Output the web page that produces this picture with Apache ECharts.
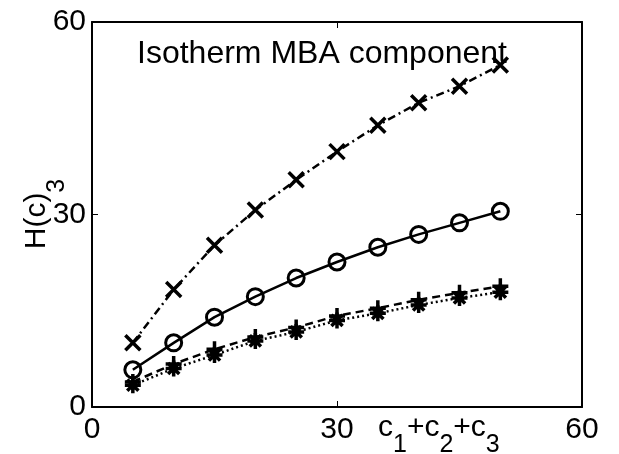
<!DOCTYPE html>
<html>
<head>
<meta charset="utf-8">
<script src="https://cdn.jsdelivr.net/npm/echarts@6/dist/echarts.min.js"></script>
<style>
html,body{margin:0;padding:0;background:#fff;}
#chart{width:619px;height:454px;}
</style>
</head>
<body>
<div id="chart"></div>
<script>
var xValues = [5, 10, 15, 20, 25, 30, 35, 40, 45, 50];
var crossSeries = [10.0, 18.3, 25.2, 30.7, 35.4, 39.8, 43.9, 47.4, 50.0, 53.3];
var circleSeries = [5.8, 10.0, 14.0, 17.2, 20.1, 22.6, 24.9, 26.9, 28.7, 30.5];
var plusSeries = [3.9, 6.7, 9.0, 10.9, 12.4, 14.2, 15.4, 16.7, 17.8, 18.8];
var starSeries = [3.4, 6.0, 8.1, 10.3, 11.7, 13.5, 14.6, 15.9, 17.0, 17.9];
var axisMin = 0, axisMax = 60, axisStep = 30;
var titleText = 'Isotherm MBA component';

var FONT = '"Liberation Sans", Arial, Helvetica, sans-serif';
function pairs(v) { return xValues.map(function (x, i) { return [x, v[i]]; }); }

var chart = echarts.init(document.getElementById('chart'), null, {renderer: 'canvas'});
var lineBase = {type: 'line', symbolKeepAspect: true, animation: false, z: 3,
  emphasis: {disabled: true}};

function mkSeries(data, symbol, size, dash, extraItem) {
  return Object.assign({}, lineBase, {
    data: pairs(data),
    symbol: symbol,
    symbolSize: size,
    lineStyle: {color: '#000', width: 2.5, type: dash},
    itemStyle: Object.assign({color: '#000', borderColor: '#000', borderWidth: 3.5}, extraItem || {})
  });
}

var axisCommon = {
  type: 'value', min: axisMin, max: axisMax, interval: axisStep,
  splitLine: {show: false},
  axisLine: {show: true, onZero: false, lineStyle: {color: '#000', width: 2}},
  axisTick: {show: true, inside: true, length: 6, lineStyle: {color: '#000', width: 1}}
};

var richMain = {fontSize: 30, fontFamily: FONT, fill: '#000', lineHeight: 30, verticalAlign: 'middle'};
function richSub(size, pad) {
  return {fontSize: size, fontFamily: FONT, fill: '#000', lineHeight: size, verticalAlign: 'middle', padding: [pad, 0, 0, 0]};
}

chart.setOption({
  animation: false,
  backgroundColor: '#fff',
  grid: {left: 92, right: 37, top: 22, bottom: 47, containLabel: false},
  xAxis: [
    Object.assign({}, axisCommon, {position: 'bottom',
      axisLabel: {color: '#000', fontSize: 30, fontFamily: FONT, margin: 8}}),
    Object.assign({}, axisCommon, {position: 'top', axisLabel: {show: false}})
  ],
  yAxis: [
    Object.assign({}, axisCommon, {position: 'left',
      axisLabel: {color: '#000', fontSize: 30, fontFamily: FONT, margin: 6}}),
    Object.assign({}, axisCommon, {position: 'right', axisLabel: {show: false}})
  ],
  series: [
    mkSeries(crossSeries, 'path://M0,0L20,20M0,20L20,0', 15, [8, 4, 2, 4]),
    mkSeries(circleSeries, 'circle', 16, 'solid', {color: 'rgba(255,255,255,0)', borderWidth: 3}),
    mkSeries(plusSeries, 'path://M10,0L10,20M0,10L20,10', 16, [8, 5]),
    mkSeries(starSeries, 'path://M10,0L10,20M0,10L20,10M3,3L17,17M3,17L17,3', 16, [2, 3])
  ],
  graphic: [
    {type: 'text', x: 322, y: 54, z: 10,
      style: {text: titleText, font: '32px ' + FONT, fill: '#000', align: 'center', verticalAlign: 'middle'}},
    {type: 'text', x: 378, y: 428, z: 10,
      style: {
        text: '{m|c}{s|1}{m|+c}{s|2}{m|+c}{s|3}', fill: '#000', align: 'left', verticalAlign: 'middle',
        rich: {m: richMain, s: richSub(25, 34)}
      }},
    {type: 'text', x: 37, y: 214, rotation: Math.PI / 2, z: 10,
      style: {
        text: '{m|H(c)}{s|3}', fill: '#000', align: 'center', verticalAlign: 'middle',
        rich: {m: richMain, s: richSub(25, 40)}
      }}
  ]
});
</script>
</body>
</html>
